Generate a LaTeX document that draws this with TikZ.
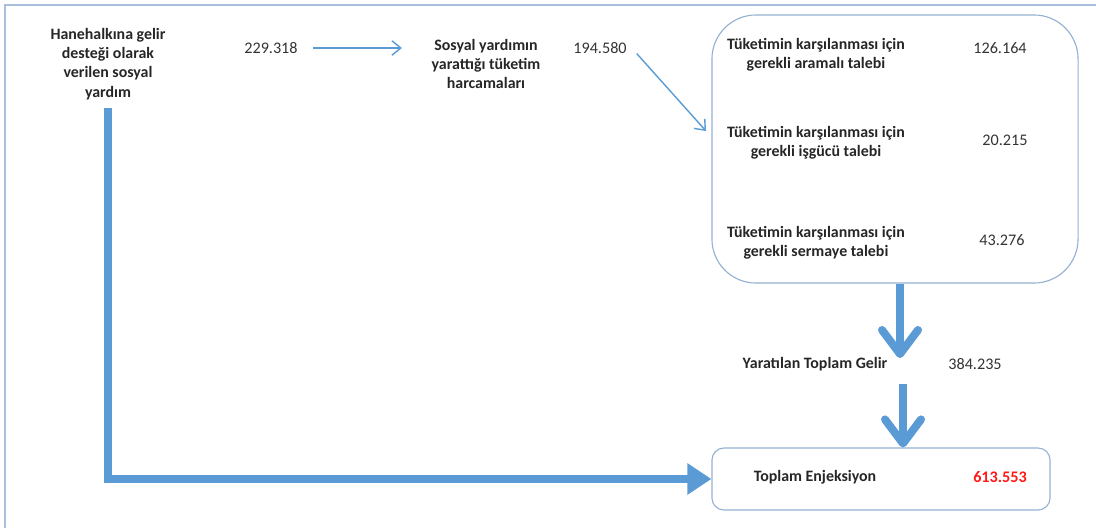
\documentclass[tikz,border=0pt]{standalone}
\usepackage{fontspec}
\setmainfont{Carlito}
\usepackage{xcolor}
\usetikzlibrary{arrows.meta,positioning}

\definecolor{flow}{HTML}{5B9BD5}
\definecolor{frameblue}{HTML}{A7BFDA}
\definecolor{boxline}{HTML}{95B1D2}
\definecolor{hot}{HTML}{FF1A1A}

\begin{document}
\begin{tikzpicture}[
  x=0.025cm, y=-0.025cm,
  lbl/.style={align=center, font=\fontsize{11.3}{13.6}\selectfont\bfseries, text=black!85, inner sep=1pt},
  val/.style={font=\fontsize{11.5}{12}\selectfont, text=black!80, inner sep=1pt},
  bigbox/.style={draw=boxline, line width=0.8pt, rounded corners=1.1cm, minimum width=9.15cm, minimum height=6.7cm},
  sumbox/.style={draw=boxline, line width=0.8pt, rounded corners=0.3cm, minimum width=8.45cm, minimum height=1.55cm},
  thinarr/.style={draw=flow, line width=1pt, -{Straight Barb[length=2.2mm, width=3.6mm]}},
  fatarr/.style={draw=flow, line width=0.2cm, -{Straight Barb[length=6mm, width=9mm, line width=0.2cm, round]}},
  fatline/.style={draw=flow, line width=0.2cm, -{Triangle[length=6mm, width=7.5mm]}}
]
  \useasboundingbox (0,0) rectangle (1096,528);
  \draw[frameblue, line width=1pt] (5,528) |- (1096,5);

  % boxes
  \node[bigbox] (grp) at (895,149) {};
  \node[sumbox] (tot) at (881,479) {};

  % left side
  \node[lbl] (src) at (108,64) {Hanehalkına gelir\\desteği olarak\\verilen sosyal\\yardım};
  \node[val] (v1) at (271,48) {229.318};
  \node[lbl] (cons) at (486,64) {Sosyal yardımın\\yarattığı tüketim\\harcamaları};
  \node[val] (v2) at (600,48) {194.580};

  % demands
  \node[lbl] (d1) at (816,55) {Tüketimin karşılanması için\\gerekli aramalı talebi};
  \node[val] (n1) at (1000,48) {126.164};
  \node[lbl] (d2) at (816,143) {Tüketimin karşılanması için\\gerekli işgücü talebi};
  \node[val] (n2) at (1005,140) {20.215};
  \node[lbl] (d3) at (816,243) {Tüketimin karşılanması için\\gerekli sermaye talebi};
  \node[val] (n3) at (1002,240) {43.276};

  \node[lbl] (inc) at (815,364) {Yaratılan Toplam Gelir};
  \node[val] (n4) at (975,364) {384.235};

  \node[lbl] (tlab) at (815,477) {Toplam Enjeksiyon};
  \node[val, font=\fontsize{11.5}{12}\selectfont\bfseries, text=hot] (tval) at (1000,477) {613.553};

  \coordinate (hit) at (706,131);
  \coordinate (down1) at (900,358);
  \coordinate (up2) at (903,384);

  \draw[thinarr] ([xshift=10pt]v1.east) -- ([xshift=-20pt]v1 -| cons.west);
  \draw[thinarr] ([xshift=6pt,yshift=-4pt]v2.east) -- (hit);
  \draw[fatarr] (grp.south -| down1) -- (down1);
  \draw[fatarr] (up2) -- (up2 |- tot.north);
  \draw[fatline] ([yshift=-5pt]src.south) |- (tot.west);
\end{tikzpicture}
\end{document}
